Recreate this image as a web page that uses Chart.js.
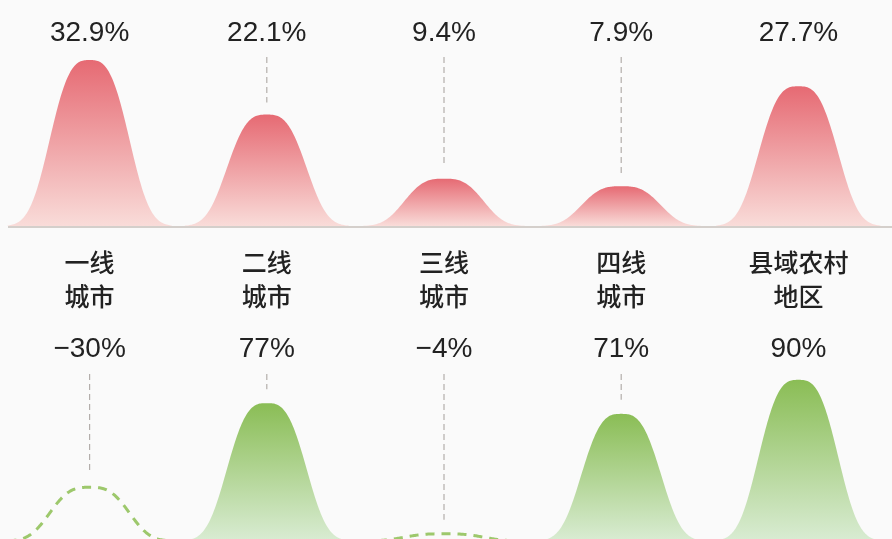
<!DOCTYPE html>
<html>
<head>
<meta charset="utf-8">
<script src="https://cdn.jsdelivr.net/npm/chart.js@4"></script>
<style>
  html, body { margin: 0; padding: 0; background: #fafafa; }
  #wrap { width: 892px; height: 539px; position: relative; }
</style>
</head>
<body>
<div id="wrap"><canvas id="myChart" width="892" height="539"></canvas></div>
<script>
// categories and values
const categories = [["一线", "城市"], ["二线", "城市"], ["三线", "城市"], ["四线", "城市"], ["县域农村", "地区"]];
const shareValues = [32.9, 22.1, 9.4, 7.9, 27.7];   // top row, %
const growthValues = [-30, 77, -4, 71, 90];         // bottom row, %
const shareLeader = [false, true, true, true, false];
const growthLeader = [true, true, true, true, false];

const numFont = "28px 'Liberation Sans', Arial, sans-serif";
const cjkFont = "500 25px 'Noto Sans CJK SC', sans-serif";

function bellPath(ctx, cx, base, h) {
  ctx.beginPath();
  ctx.moveTo(cx - 82, base);
  for (let dx = -82; dx <= 82; dx += 1) {
    const k = Math.exp(-Math.pow(Math.abs(dx) / 46, 3));
    ctx.lineTo(cx + dx, base - h * k);
  }
}

function drawBell(ctx, cx, base, h, green, negative) {
  if (negative) {
    ctx.save();
    bellPath(ctx, cx, base, h);
    ctx.strokeStyle = "#9dc86c";
    ctx.lineWidth = 3;
    ctx.setLineDash([9, 7]);
    ctx.stroke();
    ctx.restore();
    return;
  }
  const g = ctx.createLinearGradient(0, base - h, 0, base);
  if (green) {
    g.addColorStop(0, "#8abd55");
    g.addColorStop(1, "#d9ecd3");
  } else {
    g.addColorStop(0, "#e66a73");
    g.addColorStop(1, "#f9dcd9");
  }
  bellPath(ctx, cx, base, h);
  ctx.lineTo(cx + 82, base);
  ctx.closePath();
  ctx.fillStyle = g;
  ctx.fill();
}

function leader(ctx, x, y0, y1) {
  ctx.save();
  ctx.strokeStyle = "#b3aeab";
  ctx.lineWidth = 1.2;
  ctx.setLineDash([6, 4]);
  ctx.beginPath();
  ctx.moveTo(x, y0);
  ctx.lineTo(x, y1);
  ctx.stroke();
  ctx.restore();
}

function fmtShare(v) { return v.toFixed(1) + "%"; }
function fmtGrowth(v) { return (v < 0 ? "\u2212" + Math.abs(v) : v) + "%"; }

const bellPlugin = {
  id: "bells",
  afterDatasetsDraw(chart) {
    const ctx = chart.ctx;
    const xs = chart.scales.x;

    chart.data.datasets.forEach((ds, di) => {
      const meta = chart.getDatasetMeta(di);
      const ys = chart.scales[ds.yAxisID];
      const zero = ys.getPixelForValue(0);
      meta.data.forEach((bar, i) => {
        const h = Math.abs(zero - ys.getPixelForValue(ds.data[i]));
        drawBell(ctx, bar.x, zero, h, di == 1, ds.data[i] < 0);
      });
    });

    // top baseline
    const y0 = chart.scales.yTop.getPixelForValue(0);
    ctx.save();
    ctx.strokeStyle = "#d4cfcb";
    ctx.lineWidth = 2;
    ctx.beginPath();
    ctx.moveTo(8, y0 + 1);
    ctx.lineTo(892, y0 + 1);
    ctx.stroke();
    ctx.restore();

    ctx.save();
    ctx.fillStyle = "#222";
    ctx.textAlign = "center";
    ctx.textBaseline = "middle";
    const yb = chart.scales.yBot;
    for (let i = 0; i < categories.length; i++) {
      const x = xs.getPixelForValue(i);
      // value labels
      ctx.font = numFont;
      ctx.fillText(fmtShare(shareValues[i]), x, 33);
      ctx.fillText(fmtGrowth(growthValues[i]), x, 349);
      // category
      ctx.font = cjkFont;
      ctx.fillText(categories[i][0], x, 262);
      ctx.fillText(categories[i][1], x, 296);

      const topPeak = chart.scales.yTop.getPixelForValue(shareValues[i]);
      if (shareLeader[i]) leader(ctx, x, 57, topPeak - 12);
      const botPeak = yb.getPixelForValue(Math.abs(growthValues[i]));
      if (growthLeader[i]) leader(ctx, x, 374, botPeak - 14);
    }
    ctx.restore();
  }
};

new Chart(document.getElementById("myChart").getContext("2d"), {
  type: "bar",
  data: {
    labels: categories.map((c) => c.join("")),
    datasets: [
      {
        label: "占比",
        data: shareValues,
        yAxisID: "yTop",
        grouped: false,
        backgroundColor: "rgba(0,0,0,0)",
      },
      {
        label: "增速",
        data: growthValues,
        yAxisID: "yBot",
        grouped: false,
        backgroundColor: "rgba(0,0,0,0)",
      },
    ],
  },
  options: {
    responsive: false,
    animation: false,
    events: [],
    layout: { padding: { left: 1, right: 5, top: 0, bottom: 0 } },
    plugins: { legend: { display: false }, tooltip: { enabled: false } },
    scales: {
      x: { display: false, offset: true },
      yTop: { display: false, min: -62, max: 44.8 },
      yBot: { display: false, min: 1.1, max: 302.2 },
    },
  },
  plugins: [bellPlugin],
});
</script>
</body>
</html>
